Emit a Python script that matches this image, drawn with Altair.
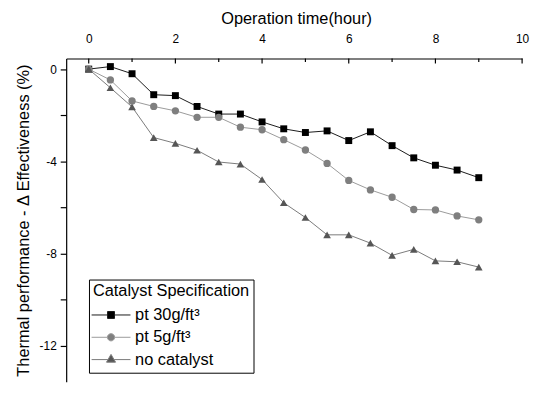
import altair as alt
import pandas as pd

hours = [0, 0.5, 1, 1.5, 2, 2.5, 3, 3.5, 4, 4.5, 5, 5.5, 6, 6.5, 7, 7.5, 8, 8.5, 9]
pt30 = [0, 0.11, -0.2, -1.11, -1.15, -1.62, -1.95, -1.95, -2.29, -2.59, -2.75,
        -2.68, -3.1, -2.72, -3.32, -3.85, -4.17, -4.38, -4.71]
pt5 = [0, -0.47, -1.38, -1.62, -1.81, -2.09, -2.09, -2.52, -2.63, -3.06, -3.51,
       -4.09, -4.83, -5.24, -5.56, -6.09, -6.11, -6.37, -6.54]
nocat = [0, -0.81, -1.64, -2.97, -3.22, -3.52, -4.03, -4.12, -4.79, -5.8, -6.44,
         -7.19, -7.19, -7.55, -8.08, -7.82, -8.32, -8.36, -8.59]
names = ["pt 30g/ft\u00b3", "pt 5g/ft\u00b3", "no catalyst"]
x_major = [0, 2, 4, 6, 8, 10]
x_minor = [1, 3, 5, 7, 9]
y_ticks = [0, -2, -4, -6, -8, -10, -12]

line_colors = ["#1a1a1a", "#9a9a9a", "#7a7a7a"]
fill_colors = ["#000000", "#7f7f7f", "#565656"]
shapes = ["square", "circle", "triangle-up"]
sizes = [49, 60, 80]
legend_paths = [
    "M-5.6,0H-1M1,0H5.6M-1,-1H1V1H-1Z",
    "M-5.6,0H-1.05M1.05,0H5.6M1.05,0A1.05,1.05,0,1,1,-1.05,0A1.05,1.05,0,1,1,1.05,0Z",
    "M-5.6,0H-0.9M0.9,0H5.6M0,-1.5L1.3,0.75L-1.3,0.75Z",
]

rows = []
for name, vals in zip(names, [pt30, pt5, nocat]):
    for h, v in zip(hours, vals):
        rows.append({"hour": h, "value": v, "series": name})
df = pd.DataFrame(rows)

FONT = "Liberation Sans"
xs = alt.Scale(domain=[-0.52, 10], nice=False, zero=False)
ys = alt.Scale(domain=[-13.56, 0.46], nice=False, zero=False)

x_axis = alt.Axis(
    orient="top", values=x_major, title="Operation time(hour)",
    ticks=False, tickSize=0, grid=False, labelFlush=False,
    labelFontSize=12, labelFont=FONT, labelColor="black",
    labelBaseline="alphabetic", labelPadding=16.6,
    titleFontSize=16.5, titleFont=FONT, titleFontWeight="normal",
    titleColor="black", titleBaseline="alphabetic", titleAlign="center",
    titleX=232, titleY=-35.8,
    domainColor="black", domainWidth=1.2,
)
x_enc = alt.X("hour:Q", scale=xs, axis=x_axis, title="Operation time(hour)")
y_enc = alt.Y(
    "value:Q", scale=ys, title="Thermal performance - \u0394 Effectiveness (%)",
    axis=alt.Axis(
        orient="left", values=y_ticks,
        labelExpr="datum.value % 4 == 0 ? '' + datum.value : ''",
        title="Thermal performance - \u0394 Effectiveness (%)",
        tickSize=6, tickWidth=1.2, tickColor="black", grid=False,
        labelFontSize=12, labelFont=FONT, labelColor="black", labelPadding=4,
        titleFontSize=16.5, titleFont=FONT, titleFontWeight="normal",
        titleColor="black", titleAlign="center", titleBaseline="middle",
        titleAngle=270, titleX=-43, titleY=163,
        domainColor="black", domainWidth=1.2,
    ),
)

base = alt.Chart(df)

lines = base.mark_line(strokeWidth=1).encode(
    x=x_enc, y=y_enc,
    stroke=alt.Stroke("series:N", scale=alt.Scale(domain=names, range=line_colors), legend=None),
    detail="series:N",
)

points = base.mark_point(filled=True, opacity=1, strokeWidth=0).encode(
    x=x_enc, y=y_enc,
    shape=alt.Shape("series:N", scale=alt.Scale(domain=names, range=shapes), legend=None),
    fill=alt.Fill("series:N", scale=alt.Scale(domain=names, range=fill_colors), legend=None),
    size=alt.Size("series:N", scale=alt.Scale(domain=names, range=sizes), legend=None),
)

leg = alt.Legend(
    title="Catalyst Specification", orient="none", legendX=23.0, legendY=223.0,
    titleFont=FONT, titleFontSize=16.5, titleFontWeight="normal", titleColor="black",
    titlePadding=7, labelFont=FONT, labelFontSize=16.5, labelColor="black",
    symbolSize=49, symbolStrokeWidth=1, symbolOffset=10, labelOffset=16,
    rowPadding=5.5, padding=4, strokeColor="black", fillColor="white",
)

legend_layer = base.transform_filter("false").mark_point(filled=True, opacity=1, strokeWidth=1).encode(
    x=x_enc, y=y_enc,
    shape=alt.Shape("series:N", scale=alt.Scale(domain=names, range=legend_paths), legend=leg),
    fill=alt.Fill("series:N", scale=alt.Scale(domain=names, range=fill_colors), legend=leg),
    stroke=alt.Stroke("series:N", scale=alt.Scale(domain=names, range=line_colors), legend=leg),
)

major = alt.Chart(pd.DataFrame({"hour": x_major})).mark_rule(color="black", strokeWidth=1.2).encode(
    x=x_enc, y=alt.value(0), y2=alt.value(5)
)
minor = alt.Chart(pd.DataFrame({"hour": x_minor})).mark_rule(color="black", strokeWidth=1.2).encode(
    x=x_enc, y=alt.value(0), y2=alt.value(3.5)
)

chart = alt.layer(lines, points, legend_layer, major, minor).resolve_scale(
    shape="independent", fill="independent", stroke="independent", size="independent"
).properties(
    width=460, height=326,
    autosize=alt.AutoSizeParams(type="none"),
    padding={"left": 58.7, "top": 49.3, "right": 12, "bottom": 0},
).configure(background="white").configure_view(stroke=None)

chart.save("out.html", embed_options={"renderer": "svg", "actions": False})
